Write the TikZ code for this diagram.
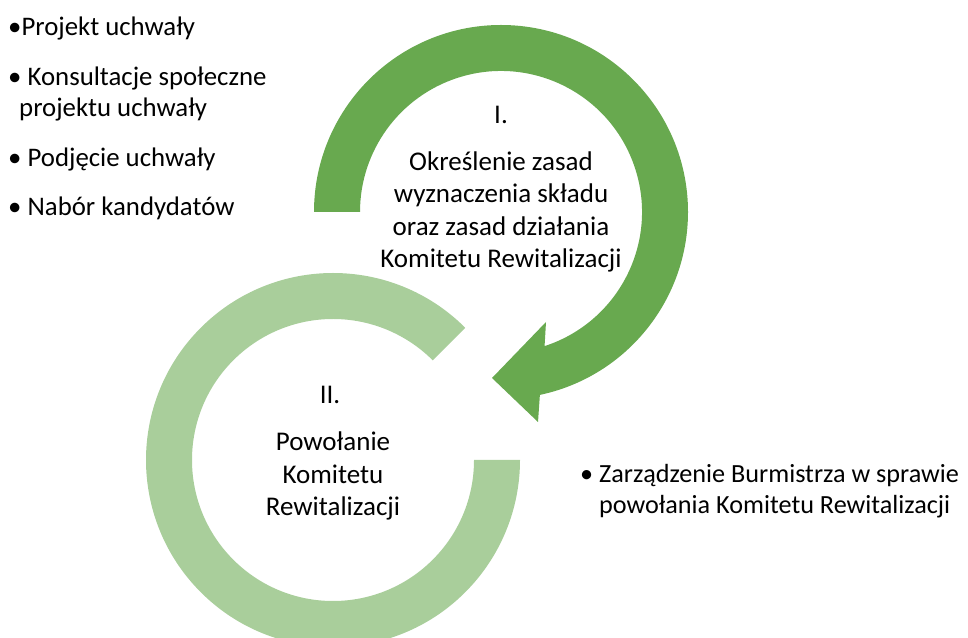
\documentclass[tikz,border=0pt]{standalone}
\usepackage{fontspec}
\setmainfont{Carlito}
\usepackage{tikz}
\usetikzlibrary{calc}
\definecolor{darkgreen}{HTML}{68A94F}
\definecolor{lightgreen}{HTML}{A9CE9B}

\begin{document}
\begin{tikzpicture}[x=1pt, y=1pt,
        txt/.style={font=\fontsize{27}{32.5}\selectfont, inner sep=0pt, align=center},
        lst/.style={font=\fontsize{26.8}{31}\selectfont, inner sep=0pt, align=left, anchor=west}]
        \useasboundingbox (0,0) rectangle (968,637);

        \coordinate (cI) at (501,425);
        \coordinate (cII) at (333,177);

        \fill[lightgreen] ($(cII)+(45:187)$) arc[start angle=45, end angle=360, radius=187]
            -- ($(cII)+(0:141)$) arc[start angle=360, end angle=45, radius=141] -- cycle;

        \coordinate (barbout) at (538,215);
        \coordinate (tip) at (492,259);
        \coordinate (barbin) at (546,315);
        \fill[darkgreen] ($(cI)+(180:187)$) arc[start angle=180, end angle=-78, radius=187]
            -- (barbout) -- (tip) -- (barbin)
            -- ($(cI)+(-72:141)$) arc[start angle=-72, end angle=180, radius=141] -- cycle;

        \node[txt] (numI) at (501,522) {I.};
        \node[txt] (textI) at (501,425) {Określenie zasad\\wyznaczenia składu\\oraz zasad działania\\Komitetu Rewitalizacji};
        \node[txt] (numII) at (330,242) {II.};
        \node[txt] (textII) at (333,161) {Powołanie\\Komitetu\\Rewitalizacji};

        \node[lst] (item1) at (8,608) {•Projekt uchwały};
        \node[lst] (item2) at (8,543) {• Konsultacje społeczne\\\hspace*{11pt}projektu uchwały};
        \node[lst] (item3) at (8,478) {• Podjęcie uchwały};
        \node[lst] (item4) at (8,429) {• Nabór kandydatów};

        \node[lst, font=\fontsize{26.2}{31}\selectfont] (order) at (580,146) {• Zarządzenie Burmistrza w sprawie\\\phantom{• }powołania Komitetu Rewitalizacji};
\end{tikzpicture}
\end{document}
